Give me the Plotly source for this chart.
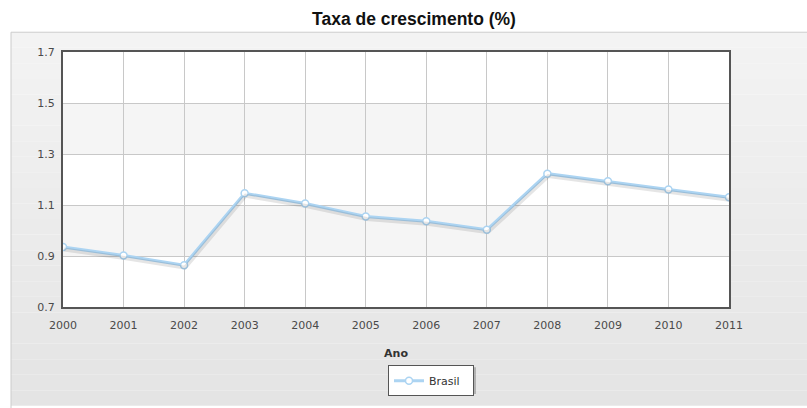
import plotly.graph_objects as go

# --- dati ---
anos = [2000, 2001, 2002, 2003, 2004, 2005, 2006, 2007, 2008, 2009, 2010, 2011]
taxa_brasil = [0.935, 0.902, 0.864, 1.146, 1.106, 1.055, 1.036, 1.003, 1.223, 1.193, 1.161, 1.130]
y_ticks = [0.7, 0.9, 1.1, 1.3, 1.5, 1.7]

W, H = 807, 408
L, R, T, B = 63, 78, 52, 98
pw, ph = W - L - R, H - T - B

# spostamento dell'ombra in pixel -> in unita' degli assi
dx = 1 / pw * (anos[-1] - anos[0])
dy = 2.5 / ph * (y_ticks[-1] - y_ticks[0])

def px_x(p):
    return (p - L) / pw

def px_y(p):
    return (T + ph - p) / ph

fig = go.Figure()

# ombra della linea (asse gemello con range spostato)
fig.add_trace(go.Scatter(
    x=anos, y=taxa_brasil, xaxis="x2", yaxis="y2",
    mode="lines", line=dict(color="rgba(0,0,0,0.10)", width=4),
    hoverinfo="skip", showlegend=False,
))
fig.add_trace(go.Scatter(
    x=anos, y=taxa_brasil, name="Brasil",
    mode="lines+markers",
    line=dict(color="#acd4f2", width=3),
    marker=dict(size=7, color="white", line=dict(color="#acd4f2", width=1.5)),
))

# pannello grigio di sfondo (gradiente a strisce)
top, bot = 32, H + 2
n = 24
for i in range(n):
    y0 = top + (bot - top) * i / n
    y1 = top + (bot - top) * (i + 1) / n
    g = int(round(0xf3 - (0xf3 - 0xe4) * i / (n - 1)))
    fig.add_shape(type="rect", xref="paper", yref="paper",
                  x0=px_x(11), x1=px_x(W + 2), y0=px_y(y1), y1=px_y(y0),
                  fillcolor=f"rgb({g},{g},{g})", line=dict(width=0), layer="below")
fig.add_shape(type="rect", xref="paper", yref="paper",
              x0=px_x(11), x1=px_x(W + 5), y0=px_y(bot + 5), y1=px_y(top),
              fillcolor="rgba(0,0,0,0)", line=dict(color="#cccccc", width=1), layer="below")
# area del grafico bianca
fig.add_shape(type="rect", xref="paper", yref="paper", x0=0, x1=1, y0=0, y1=1,
              fillcolor="white", line=dict(width=0), layer="below")
# bande alternate
for lo, hi in zip(y_ticks[1::2], y_ticks[2::2]):
    fig.add_shape(type="rect", xref="paper", yref="y", x0=0, x1=1, y0=lo, y1=hi,
                  fillcolor="#f5f5f5", line=dict(width=0), layer="below")
# ombra della legenda
fig.add_shape(type="rect", xref="paper", yref="paper",
              x0=px_x(391), x1=px_x(476), y0=px_y(398), y1=px_y(371),
              fillcolor="rgba(0,0,0,0.22)", line=dict(width=0), layer="below")

tick_font = dict(family="DejaVu Sans", size=11, color="#4a4a4a")
fig.update_layout(
    width=W, height=H,
    margin=dict(l=L, r=R, t=T, b=B),
    paper_bgcolor="white", plot_bgcolor="white",
    title=dict(text="<b>Taxa de crescimento (%)</b>", x=414 / W, xanchor="center",
               y=1 - 19 / H, yanchor="middle", yref="container",
               font=dict(family="Liberation Sans, Arial", size=17.5, color="#111")),
    xaxis=dict(range=[anos[0], anos[-1]], tickvals=anos, tickfont=tick_font,
               showgrid=True, gridcolor="#c8c8c8", gridwidth=1,
               showline=True, linecolor="#555", linewidth=2, mirror=True,
               zeroline=False, ticks="", ticklen=0, ticklabelstandoff=7,
               title=dict(text="<b>Ano</b>", standoff=18,
                          font=dict(family="DejaVu Sans", size=11, color="#333"))),
    yaxis=dict(range=[y_ticks[0], y_ticks[-1]], tickvals=y_ticks, tickformat=".1f",
               tickfont=tick_font, showgrid=True, gridcolor="#c8c8c8", gridwidth=1,
               showline=True, linecolor="#555", linewidth=2, mirror=True,
               zeroline=False, ticks="", ticklen=0, ticklabelstandoff=4),
    xaxis2=dict(range=[anos[0] - dx, anos[-1] - dx], anchor="y2", overlaying="x",
                visible=False, showgrid=False),
    yaxis2=dict(range=[y_ticks[0] + dy, y_ticks[-1] + dy], anchor="x2", overlaying="y",
                visible=False, showgrid=False),
    legend=dict(x=px_x(388), y=px_y(369), xanchor="left", yanchor="top",
                orientation="h", bgcolor="white", bordercolor="#555", borderwidth=1,
                entrywidth=39, entrywidthmode="pixels",
                font=dict(family="DejaVu Sans", size=11, color="#333")),
    showlegend=True,
)

# niente margine del body, la figura parte da (0,0)
fig.write_html("out.html", config={"displayModeBar": False},
               post_script="document.body.style.margin='0';")
